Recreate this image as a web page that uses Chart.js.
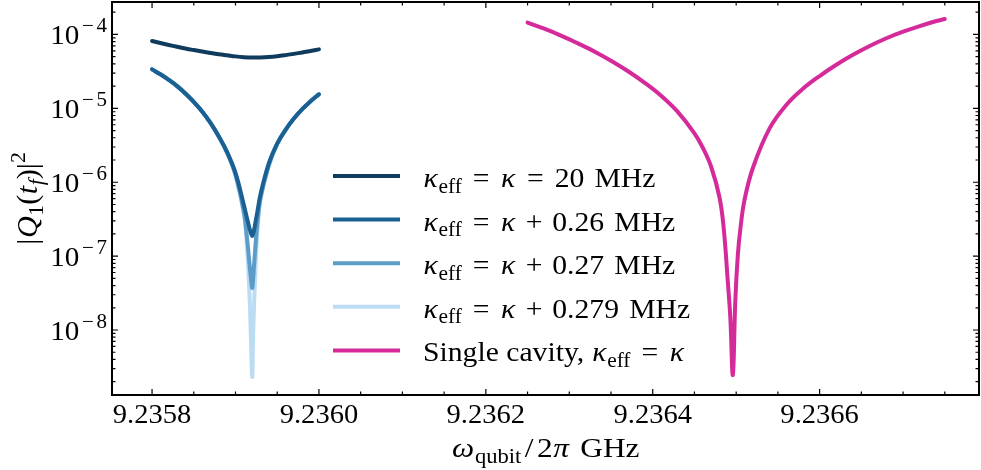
<!DOCTYPE html>
<html>
<head>
<meta charset="utf-8">
<script src="https://cdn.jsdelivr.net/npm/chart.js@4/dist/chart.umd.min.js"></script>
<style>
  html, body { margin: 0; padding: 0; background: #fff; }
  #wrap { width: 981px; height: 470px; }
</style>
</head>
<body>
<div id="wrap"><canvas id="c" width="981" height="470"></canvas></div>
<script>
// Qubit frequency grid (GHz) for kappa_eff = kappa = 20 MHz
const k20Freq = [
  9.23580, 9.23581, 9.23582, 9.23583, 9.23584, 9.23585, 9.23586, 9.23587,
  9.23588, 9.23589, 9.23590, 9.23591, 9.23592, 9.23593, 9.23594, 9.23595,
  9.23596, 9.23597, 9.23598, 9.23599, 9.23600
];
// |Q1(tf)|^2 for kappa_eff = kappa = 20 MHz
const qK20 = [
  8.14e-5, 7.65e-5, 7.21e-5, 6.82e-5, 6.46e-5, 6.15e-5, 5.87e-5, 5.62e-5,
  5.40e-5, 5.22e-5, 5.05e-5, 4.93e-5, 4.87e-5, 4.87e-5, 4.94e-5, 5.07e-5,
  5.25e-5, 5.46e-5, 5.71e-5, 5.98e-5, 6.29e-5
];
// Qubit frequency grid (GHz) for the detuned-kappa curves (denser near the dip)
const blueFreq = [
  9.23580, 9.23581, 9.23582, 9.23583, 9.23584, 9.23585, 9.23586, 9.23587,
  9.23588, 9.23589, 9.23590, 9.23591, 9.235914, 9.235917, 9.235918, 9.23592,
  9.235921, 9.235922, 9.235924, 9.235926, 9.23593, 9.23594, 9.23595, 9.23596,
  9.23597, 9.23598, 9.23599, 9.23600
];
// kappa_eff = kappa + 0.26 MHz
const qK026 = [
  3.37e-5, 2.89e-5, 2.43e-5, 2.00e-5, 1.59e-5, 1.22e-5, 9.05e-6, 6.34e-6,
  4.15e-6, 2.55e-6, 1.34e-6, 4.93e-7, 3.18e-7, 2.33e-7, 2.12e-7, 1.88e-7,
  2.00e-7, 2.19e-7, 2.90e-7, 3.84e-7, 6.90e-7, 1.81e-6, 3.33e-6, 5.13e-6,
  7.27e-6, 9.73e-6, 1.25e-5, 1.55e-5
];
// kappa_eff = kappa + 0.27 MHz
const qK027 = [
  3.37e-5, 2.89e-5, 2.43e-5, 2.00e-5, 1.59e-5, 1.22e-5, 9.05e-6, 6.34e-6,
  4.15e-6, 2.50e-6, 1.26e-6, 3.96e-7, 1.66e-7, 7.36e-8, 5.74e-8, 3.72e-8,
  4.76e-8, 6.92e-8, 1.42e-7, 2.64e-7, 6.14e-7, 1.71e-6, 3.33e-6, 5.13e-6,
  7.27e-6, 9.73e-6, 1.25e-5, 1.55e-5
];
// kappa_eff = kappa + 0.279 MHz
const qK0279 = [
  3.37e-5, 2.89e-5, 2.43e-5, 2.00e-5, 1.59e-5, 1.22e-5, 9.05e-6, 6.34e-6,
  4.15e-6, 2.48e-6, 1.22e-6, 3.72e-7, 1.21e-7, 2.55e-8, 1.17e-8, 2.32e-9,
  7.34e-9, 1.87e-8, 6.92e-8, 1.94e-7, 5.77e-7, 1.66e-6, 3.33e-6, 5.13e-6,
  7.27e-6, 9.73e-6, 1.25e-5, 1.55e-5
];
// Single cavity: frequency grid (GHz) and |Q1(tf)|^2
const singleFreq = [
  9.23625, 9.23627, 9.23629, 9.23631, 9.23633, 9.23635, 9.23637, 9.23639,
  9.23641, 9.23643, 9.23645, 9.23646, 9.23647, 9.23648, 9.236485, 9.23649,
  9.236493, 9.236496, 9.236499, 9.236502, 9.236505, 9.23651, 9.23652, 9.23654,
  9.23656, 9.23658, 9.23660, 9.23662, 9.23664, 9.23666, 9.23668, 9.23670,
  9.23672, 9.23674, 9.23675
];
const qSingle = [
  1.449e-4, 1.197e-4, 9.66e-5, 7.62e-5, 5.89e-5, 4.41e-5, 3.20e-5, 2.23e-5,
  1.48e-5, 8.97e-6, 4.60e-6, 2.93e-6, 1.62e-6, 6.26e-7, 2.41e-7, 4.48e-8,
  1.46e-8, 2.47e-9, 2.55e-8, 1.04e-7, 2.33e-7, 5.77e-7, 1.56e-6, 5.35e-6,
  1.11e-5, 1.84e-5, 2.74e-5, 3.89e-5, 5.31e-5, 6.98e-5, 8.88e-5, 1.09e-4,
  1.30e-4, 1.52e-4, 1.62e-4
];

// Axis ticks
const xTicks = [9.2358, 9.2360, 9.2362, 9.2364, 9.2366];
const xTickLabels = ['9.2358', '9.2360', '9.2362', '9.2364', '9.2366'];
const yTicks = [1e-4, 1e-5, 1e-6, 1e-7, 1e-8];
const yTickExponents = ['4', '5', '6', '7', '8'];

// Legend entries as rich-text runs: [text, kind]
const legendLabels = [
  [['κ', 'i'], ['eff', 'sub'], ['=', 'rel'], ['κ', 'i'], ['=', 'rel'], ['20', 'r'], [' ', 'sp'], ['MHz', 'r']],
  [['κ', 'i'], ['eff', 'sub'], ['=', 'rel'], ['κ', 'i'], ['+', 'bin'], ['0.26', 'r'], [' ', 'sp'], ['MHz', 'r']],
  [['κ', 'i'], ['eff', 'sub'], ['=', 'rel'], ['κ', 'i'], ['+', 'bin'], ['0.27', 'r'], [' ', 'sp'], ['MHz', 'r']],
  [['κ', 'i'], ['eff', 'sub'], ['=', 'rel'], ['κ', 'i'], ['+', 'bin'], ['0.279', 'r'], [' ', 'sp'], ['MHz', 'r']],
  [['Single cavity, ', 'r'], ['κ', 'i'], ['eff', 'sub'], ['=', 'rel'], ['κ', 'i']]
];
const xTitle = [['ω', 'i'], ['qubit', 'sub'], ['/', 'slash'], ['2', 'r'], ['π', 'i'], [' ', 'sp'], ['GHz', 'r']];
const yTitle = [['|', 'r'], ['Q', 'i'], ['1', 'sub'], ['(', 'r'], ['t', 'i'], ['f', 'isub'], [')', 'r'], ['|', 'r'], ['2', 'sup']];

const colors = ['#0f3b5d', '#1b6093', '#5b9cc9', '#bbdcf2', '#d52a9a'];

const FONT = '"Liberation Serif", "DejaVu Serif", serif';

function toPoints(xs, ys) { return xs.map((x, i) => ({ x: x, y: ys[i] })); }

// Rich text helpers (italic, sub/superscript, spaced operators)
function isSmall(kind) { return kind === 'sub' || kind === 'isub' || kind === 'sup' || kind === 'supm'; }
function segFont(kind, size) {
  const s = isSmall(kind) ? size * 0.72 : size;
  const it = (kind === 'i' || kind === 'isub');
  return (it ? 'italic ' : '') + s.toFixed(1) + 'px ' + FONT;
}
function segPad(kind, size) {
  if (kind === 'rel') return size * 0.37;
  if (kind === 'bin') return size * 0.33;
  if (kind === 'slash') return size * 0.11;
  if (kind === 'supm') return size * 0.09;
  if (kind === 'i') return size * 0.02;
  return 0;
}
function segDy(kind, size) {
  if (kind === 'sub' || kind === 'isub') return size * 0.2;
  if (kind === 'sup' || kind === 'supm') return -size * 0.42;
  return 0;
}
function segWidth(ctx, t, k, size) {
  if (k === 'sp') return size * 0.34;
  ctx.font = segFont(k, size);
  return ctx.measureText(t).width + 2 * segPad(k, size);
}
function richWidth(ctx, segs, size) {
  let w = 0;
  for (const [t, k] of segs) w += segWidth(ctx, t, k, size);
  return w;
}
// sx stretches the run horizontally (wider face than the installed serif)
function drawRich(ctx, segs, x, y, size, align, sx) {
  sx = sx || 1;
  const w = richWidth(ctx, segs, size) * sx;
  const x0 = align === 'center' ? x - w / 2 : (align === 'right' ? x - w : x);
  ctx.save();
  ctx.translate(x0, y);
  ctx.scale(sx, 1);
  ctx.textAlign = 'left';
  ctx.textBaseline = 'alphabetic';
  let cx = 0;
  for (const [t, k] of segs) {
    if (k === 'sp') { cx += size * 0.34; continue; }
    ctx.font = segFont(k, size);
    const p = segPad(k, size);
    ctx.fillText(t, cx + p, segDy(k, size));
    cx += ctx.measureText(t).width + 2 * p;
  }
  ctx.restore();
}

const framePlugin = {
  id: 'frame',
  afterDatasetsDraw(chart) {
    const ctx = chart.ctx;
    const a = chart.chartArea;
    const xs = chart.scales.x, ys = chart.scales.y;
    ctx.save();
    ctx.strokeStyle = '#000';
    ctx.fillStyle = '#000';

    // frame
    ctx.lineWidth = 2;
    ctx.strokeRect(a.left, a.top, a.right - a.left, a.bottom - a.top);

    // x ticks (major and minor) on bottom and top, pointing inward
    ctx.lineWidth = 1.2;
    ctx.beginPath();
    for (let k = -1; k <= 20; k++) {
      const v = 9.2358 + k * 0.00005;
      const px = xs.getPixelForValue(v);
      if (px < a.left + 1 || px > a.right - 1) continue;
      const len = (k % 4 === 0) ? 6 : 3.5;
      ctx.moveTo(px, a.bottom); ctx.lineTo(px, a.bottom - len);
      ctx.moveTo(px, a.top); ctx.lineTo(px, a.top + len);
    }
    // y ticks on left and right
    for (let e = -10; e <= -3; e++) {
      for (let m = 1; m <= 9; m++) {
        const v = m * Math.pow(10, e);
        const py = ys.getPixelForValue(v);
        if (py < a.top + 1 || py > a.bottom - 1) continue;
        const len = (m === 1) ? 6 : 3.5;
        ctx.moveTo(a.left, py); ctx.lineTo(a.left + len, py);
        ctx.moveTo(a.right, py); ctx.lineTo(a.right - len, py);
      }
    }
    ctx.stroke();

    // x tick labels
    xTicks.forEach((v, i) => {
      drawRich(ctx, [[xTickLabels[i], 'r']], xs.getPixelForValue(v), a.bottom + 28, 28, 'center', 1.02);
    });

    // y tick labels: 10 with a raised negative exponent
    yTicks.forEach((v, i) => {
      const py = ys.getPixelForValue(v);
      drawRich(ctx, [['10', 'r'], ['\u2212', 'supm'], [yTickExponents[i], 'sup']], a.left - 5, py + 9.5, 28, 'right', 1.04);
    });

    // axis titles
    drawRich(ctx, xTitle, (a.left + a.right) / 2, 457, 28, 'center', 1.12);
    ctx.save();
    ctx.translate(37, (a.top + a.bottom) / 2);
    ctx.rotate(-Math.PI / 2);
    drawRich(ctx, yTitle, 0, 0, 29, 'center', 1.04);
    ctx.restore();

    // legend
    legendLabels.forEach((segs, i) => {
      const ly = 176 + i * 43.6;
      ctx.strokeStyle = colors[i];
      ctx.lineWidth = 4;
      ctx.beginPath();
      ctx.moveTo(333, ly); ctx.lineTo(400, ly);
      ctx.stroke();
      drawRich(ctx, segs, 423, ly + 11, 28, 'left', 1.06);
    });
    ctx.restore();
  }
};

const lineStyle = {
  pointRadius: 0,
  borderWidth: 4,
  fill: false,
  tension: 0.4,
  borderCapStyle: 'round',
  borderJoinStyle: 'round'
};

new Chart(document.getElementById('c'), {
  type: 'line',
  data: {
    datasets: [
      Object.assign({ label: 'kappa_eff = kappa = 20 MHz', data: toPoints(k20Freq, qK20), borderColor: colors[0] }, lineStyle),
      Object.assign({ label: 'kappa_eff = kappa + 0.26 MHz', data: toPoints(blueFreq, qK026), borderColor: colors[1] }, lineStyle),
      Object.assign({ label: 'kappa_eff = kappa + 0.27 MHz', data: toPoints(blueFreq, qK027), borderColor: colors[2] }, lineStyle),
      Object.assign({ label: 'kappa_eff = kappa + 0.279 MHz', data: toPoints(blueFreq, qK0279), borderColor: colors[3] }, lineStyle),
      Object.assign({ label: 'Single cavity', data: toPoints(singleFreq, qSingle), borderColor: colors[4] }, lineStyle)
    ]
  },
  options: {
    responsive: false,
    animation: false,
    devicePixelRatio: 1,
    layout: { padding: { left: 112, right: 2, top: 2, bottom: 75 } },
    scales: {
      x: { type: 'linear', display: false, min: 9.235752, max: 9.236791 },
      y: { type: 'logarithmic', display: false, min: 1.32e-9, max: 2.75e-4 }
    },
    plugins: {
      legend: { display: false },
      tooltip: { enabled: false }
    },
    events: []
  },
  plugins: [framePlugin]
});
</script>
</body>
</html>
